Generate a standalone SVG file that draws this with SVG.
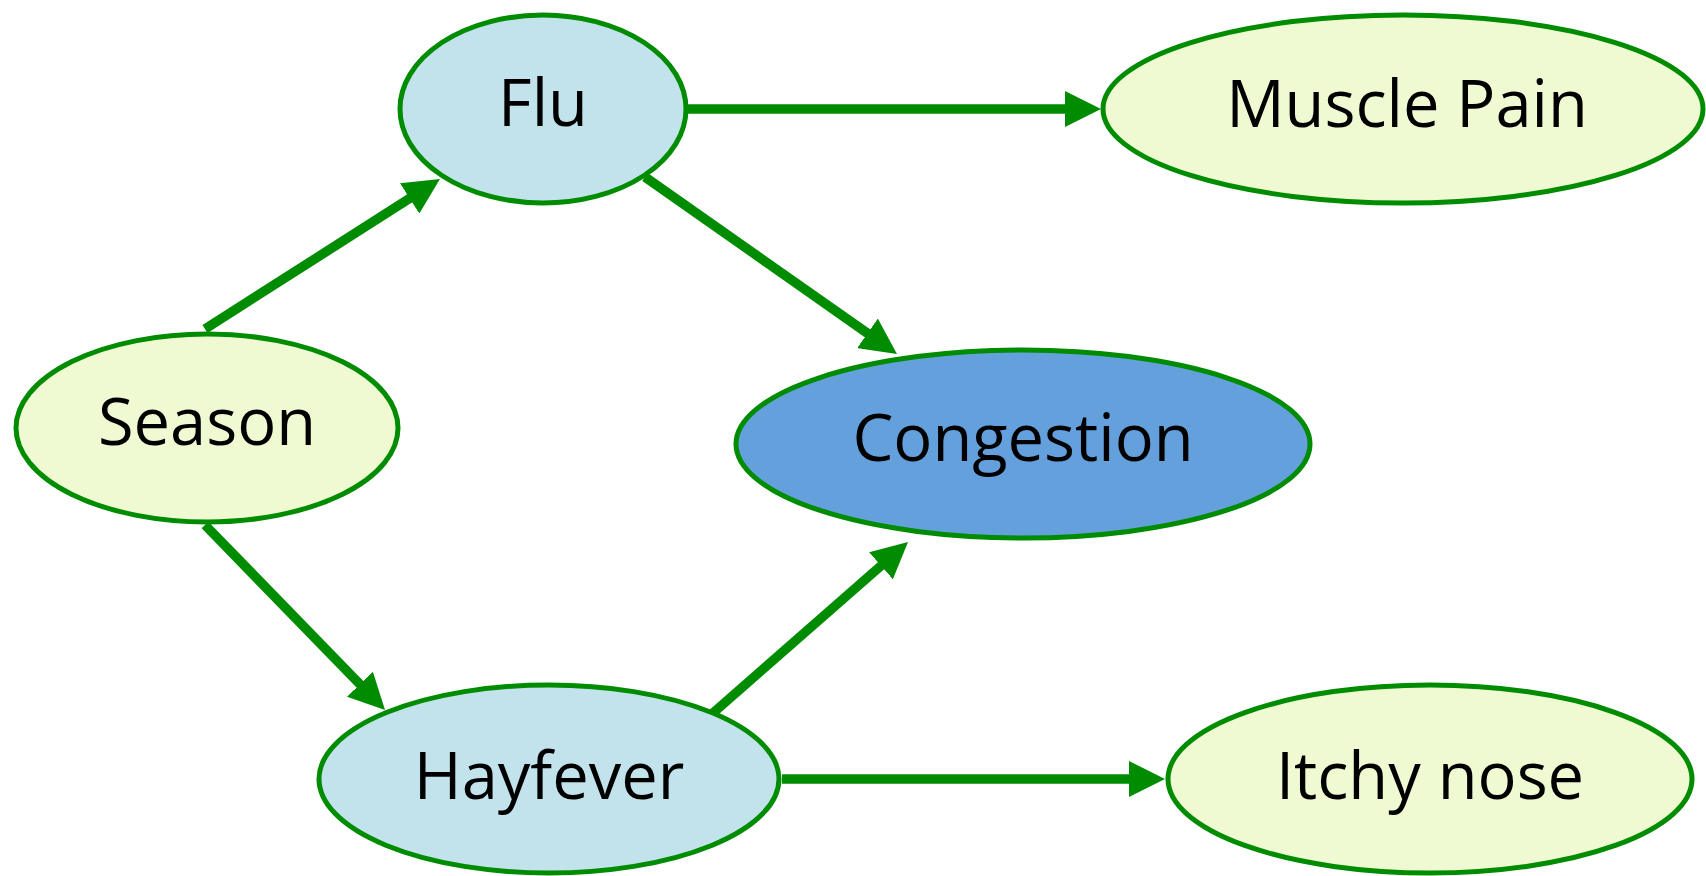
<svg xmlns="http://www.w3.org/2000/svg" width="1706" height="876" viewBox="0 0 1706 876">
<style>
.node{stroke:#008C00;stroke-width:5}
.light{fill:#EFFAD3}
.blue{fill:#C2E3EC}
.main{fill:#64A0DC}
.lbl{font-family:"Open Sans","Liberation Sans",sans-serif;font-size:65px;fill:#000;text-anchor:middle}
.edge{stroke:#008C00;stroke-width:9.5;fill:none;marker-end:url(#arr)}
</style>
<defs>
<marker id="arr" viewBox="0 0 36 36" markerWidth="36" markerHeight="36" markerUnits="userSpaceOnUse" refX="16" refY="18" orient="auto">
<path d="M0,0 L36,18 L0,36 z" fill="#008C00"/>
</marker>
</defs>
<rect width="1706" height="876" fill="#fff"/>
<g id="node-flu"><ellipse class="node blue" cx="543" cy="109" rx="143" ry="94"/><text class="lbl" x="543" y="126">Flu</text></g>
<g id="node-muscle-pain"><ellipse class="node light" cx="1403" cy="109" rx="300" ry="94"/><text class="lbl" x="1407" y="127">Muscle Pain</text></g>
<g id="node-season"><ellipse class="node light" cx="207" cy="428" rx="191" ry="94"/><text class="lbl" x="207" y="445">Season</text></g>
<g id="node-congestion"><ellipse class="node main" cx="1023" cy="444" rx="287" ry="94"/><text class="lbl" x="1023" y="461">Congestion</text></g>
<g id="node-hayfever"><ellipse class="node blue" cx="549" cy="779" rx="230" ry="94"/><text class="lbl" x="549" y="799">Hayfever</text></g>
<g id="node-itchy-nose"><ellipse class="node light" cx="1430" cy="779" rx="262" ry="94"/><text class="lbl" x="1430" y="799">Itchy nose</text></g>
<g id="connectors">
<path class="edge" d="M205,329 L423.1,189.8"/>
<path class="edge" d="M688,109 L1081,109"/>
<path class="edge" d="M645,177 L880.6,342.5"/>
<path class="edge" d="M205,525 L371.1,695.7"/>
<path class="edge" d="M713,713 L893,555.2"/>
<path class="edge" d="M782,779 L1145,779"/>
</g>
</svg>
